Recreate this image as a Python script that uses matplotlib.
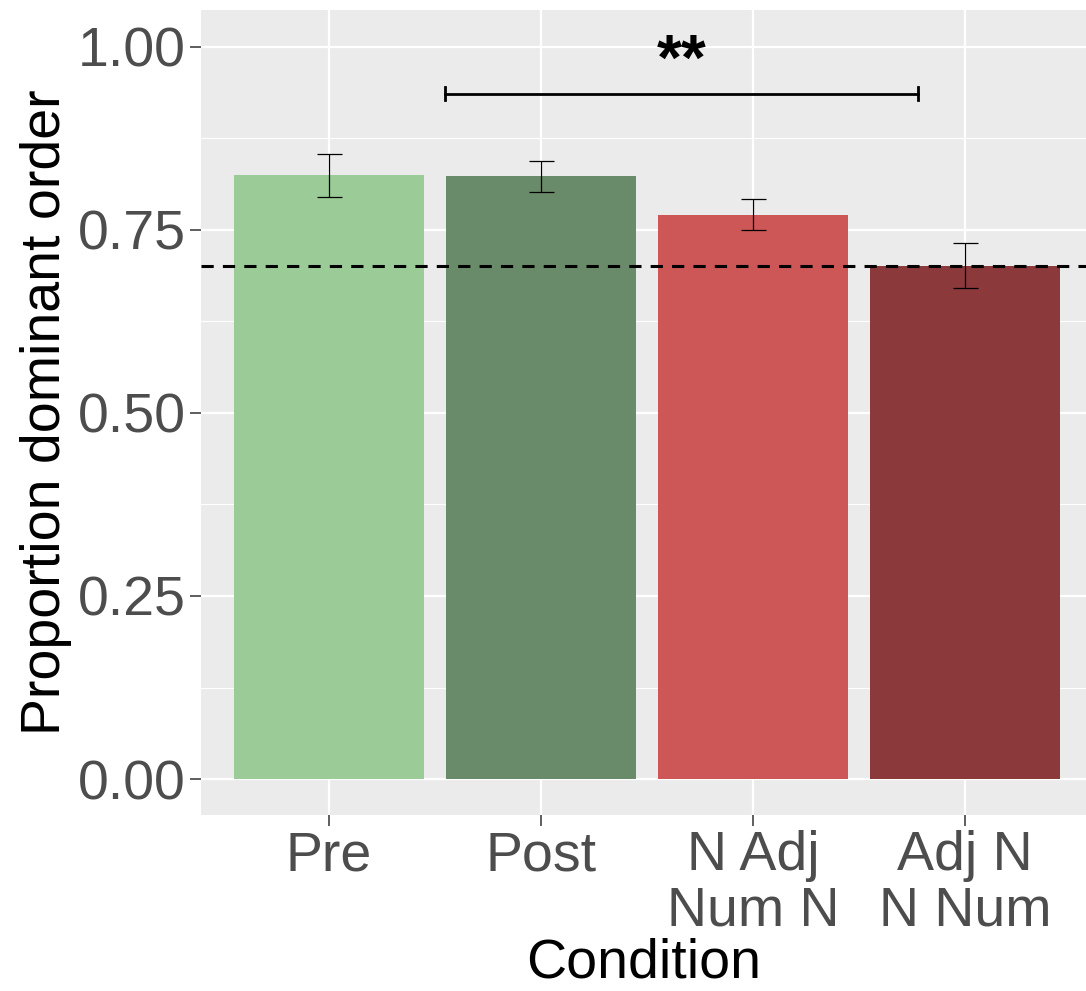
import matplotlib
matplotlib.use("Agg")
import matplotlib.pyplot as plt
import numpy as np

# data
conditions = ["Pre", "Post", "N Adj\nNum N", "Adj N\nN Num"]
proportion = [0.825, 0.824, 0.770, 0.701]
err_low = [0.795, 0.802, 0.749, 0.671]
err_high = [0.854, 0.844, 0.792, 0.732]
bar_colors = ["#9BCC98", "#6A8B6A", "#CD5657", "#8B393B"]
chance_level = 0.7
sig_pair = (0.547, 2.778)
sig_height = 0.936
sig_label = "**"

plt.rcParams['font.family'] = ['Liberation Sans', 'DejaVu Sans']

fig = plt.figure(figsize=(10.86, 9.91), dpi=100)
ax = fig.add_axes([201/1086, 176/991, 885/1086, 805/991])

x = np.arange(len(conditions))
ax.set_facecolor("#EBEBEB")
for s in ax.spines.values():
    s.set_visible(False)

# grid like ggplot
ax.set_yticks([0, 0.25, 0.5, 0.75, 1.0])
ax.set_yticks([0.125, 0.375, 0.625, 0.875], minor=True)
ax.set_xticks(x)
ax.grid(which="major", color="white", linewidth=1.6)
ax.grid(which="minor", axis="y", color="white", linewidth=0.8)
ax.set_axisbelow(True)

ax.bar(x, proportion, width=0.9, color=bar_colors, zorder=2)

yerr = [np.array(proportion) - np.array(err_low), np.array(err_high) - np.array(proportion)]
ax.errorbar(x, proportion, yerr=yerr, fmt="none", ecolor="black",
            elinewidth=0.9, capsize=9, capthick=0.9, zorder=3)

ax.axhline(chance_level, color="black", linewidth=2.2, linestyle=(0, (4, 3)), zorder=4)

# significance bracket
ax.plot([sig_pair[0], sig_pair[1]], [sig_height, sig_height], color="black", linewidth=2.0, zorder=4)
for xe in sig_pair:
    ax.plot([xe, xe], [sig_height - 0.009, sig_height + 0.009], color="black", linewidth=2.0, zorder=4)
ax.text(np.mean(sig_pair), 0.978, sig_label, ha="center", va="center",
        fontsize=46, fontweight="bold", color="black")

ax.set_xlim(-0.604, 3.571)
ax.set_ylim(-0.049, 1.050)

ax.set_yticklabels(["0.00", "0.25", "0.50", "0.75", "1.00"])
ax.set_xticklabels(conditions, linespacing=1.08)
ax.tick_params(axis="both", which="major", length=8, width=1.1, color="#333333",
               labelcolor="#4D4D4D", labelsize=40, pad=3)
ax.tick_params(axis="both", which="minor", length=0)

ax.set_xlabel("Condition", fontsize=40, color="black", labelpad=0)
ax.set_ylabel("Proportion dominant order", fontsize=40, color="black", labelpad=4)

fig.savefig("out.png", dpi=100)
